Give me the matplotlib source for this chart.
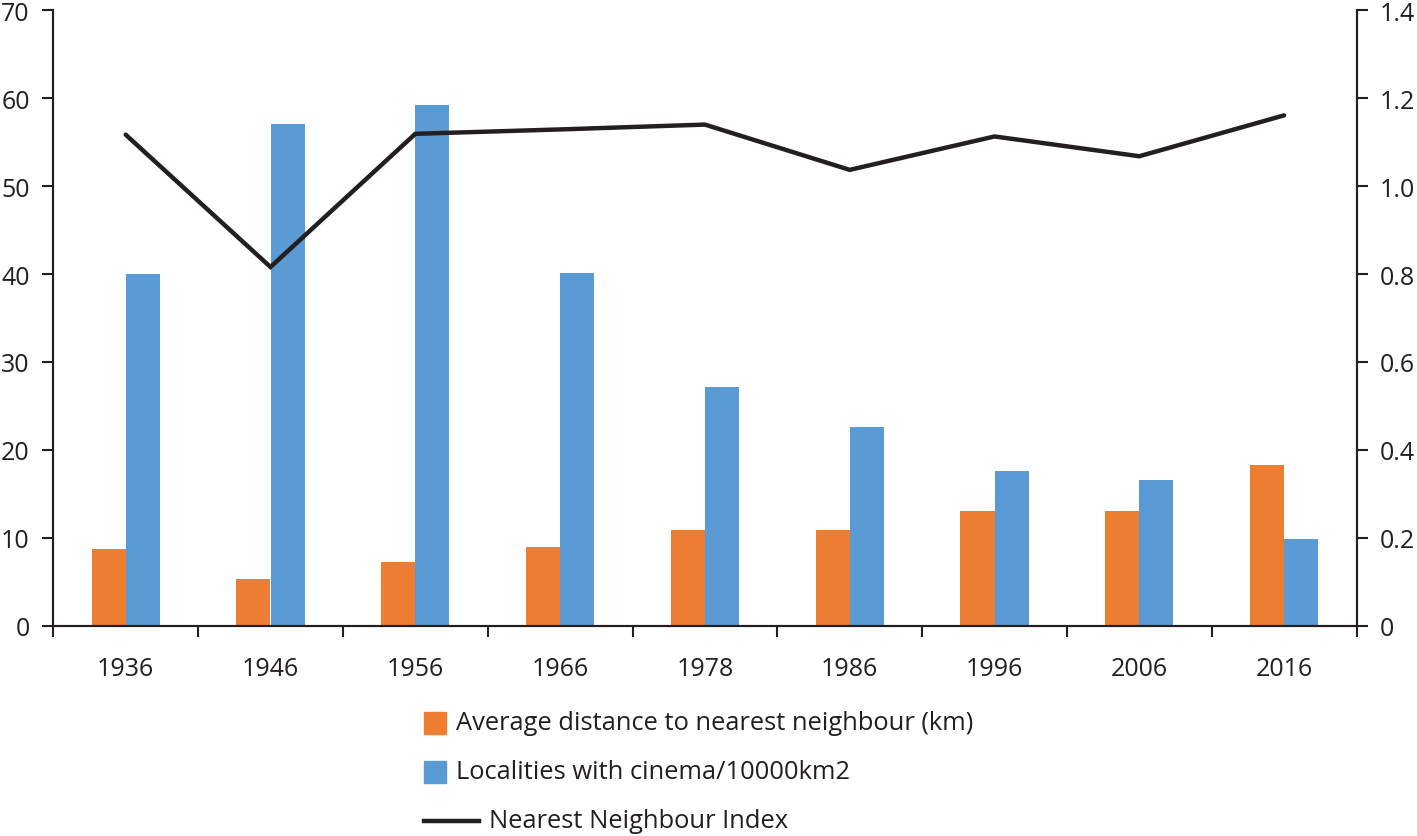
import matplotlib
matplotlib.use("Agg")
import matplotlib.pyplot as plt
from matplotlib.patches import Rectangle
from matplotlib.lines import Line2D
import numpy as np

years = ["1936", "1946", "1956", "1966", "1978", "1986", "1996", "2006", "2016"]
avg_distance = [8.7, 5.3, 7.2, 8.9, 10.9, 10.9, 13.1, 13.0, 18.3]
localities = [40.0, 57.1, 59.2, 40.1, 27.1, 22.6, 17.6, 16.6, 9.9]
nni = [1.117, 0.816, 1.119, 1.129, 1.140, 1.037, 1.113, 1.068, 1.161]

W, H = 1417, 837
ORANGE = "#ED7D31"
BLUE = "#5B9BD5"
INK = "#231F20"

plt.rcParams["font.family"] = ["Open Sans", "DejaVu Sans"]
plt.rcParams["font.size"] = 18
plt.rcParams["text.color"] = INK

fig = plt.figure(figsize=(W / 100, H / 100), dpi=100)
ax = fig.add_axes([53.3 / W, 1 - 626.7 / H, (1356.5 - 53.3) / W, (626.7 - 11.3) / H])

x = np.arange(len(years))
w = 0.235
ax.bar(x - w / 2, avg_distance, w, color=ORANGE, zorder=2)
ax.bar(x + w / 2, localities, w, color=BLUE, zorder=2)

ax.set_xlim(-0.5, len(years) - 0.5)
ax.set_ylim(0, 70)
ax.set_yticks(range(0, 71, 10))

ax2 = ax.twinx()
ax2.plot(x, nni, color=INK, lw=3.2, solid_capstyle="round", solid_joinstyle="miter")
ax2.set_ylim(0, 1.4)
ax2.set_yticks([0, 0.2, 0.4, 0.6, 0.8, 1.0, 1.2, 1.4])
ax2.set_yticklabels(["0", "0.2", "0.4", "0.6", "0.8", "1.0", "1.2", "1.4"])

# category labels centred, tick marks on the boundaries
ax.set_xticks(x)
ax.set_xticklabels(years)
ax.set_xticks(np.arange(-0.5, len(years), 1.0), minor=True)
ax.tick_params(axis="x", which="major", length=0, pad=22, colors=INK)
ax.tick_params(axis="x", which="minor", length=8, width=1.5, direction="out", color=INK)
ax.tick_params(axis="y", length=8, width=1.5, direction="out", pad=9, colors=INK)
ax2.tick_params(axis="y", length=8, width=1.5, direction="out", pad=9, colors=INK)

for a in (ax, ax2):
    a.spines["top"].set_visible(False)
    for s in ("left", "right", "bottom"):
        a.spines[s].set_color(INK)
        a.spines[s].set_linewidth(1.5)

# legend drawn by hand below the axes
def fx(px):
    return px / W

def fy(py):
    return 1 - py / H

sq = 22
lfs = 18.4
fig.add_artist(Rectangle((fx(424), fy(724 + sq / 2)), sq / W, sq / H,
                         color=ORANGE, transform=fig.transFigure))
fig.text(fx(456), fy(724), "Average distance to nearest neighbour (km)", va="center", ha="left", fontsize=lfs)
fig.add_artist(Rectangle((fx(424), fy(773 + sq / 2)), sq / W, sq / H,
                         color=BLUE, transform=fig.transFigure))
fig.text(fx(456), fy(773), "Localities with cinema/10000km2", va="center", ha="left", fontsize=lfs)
fig.add_artist(Line2D([fx(424), fx(479)], [fy(822), fy(822)], color=INK, lw=3.2,
                      transform=fig.transFigure))
fig.text(fx(489), fy(822), "Nearest Neighbour Index", va="center", ha="left", fontsize=lfs)

fig.savefig("out.png", dpi=100)
